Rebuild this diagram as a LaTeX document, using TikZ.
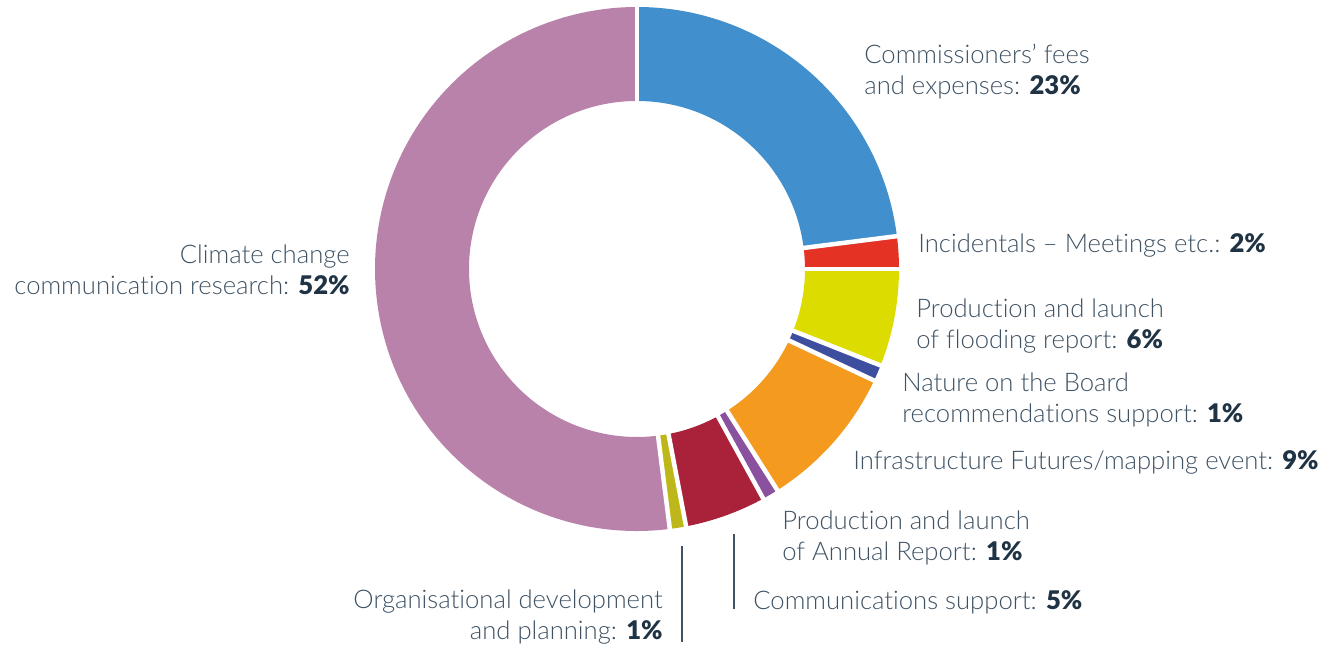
\documentclass[tikz,border=0pt]{standalone}
\usepackage{fontspec}
\setmainfont{Lato Light}[BoldFont=Lato Black,Ligatures=NoCommon]
\usetikzlibrary{positioning}
\definecolor{commblue}{HTML}{4190CD}
\definecolor{incred}{HTML}{E43325}
\definecolor{floodyellow}{HTML}{DDDC00}
\definecolor{natureblue}{HTML}{3E4E9E}
\definecolor{infraorange}{HTML}{F39A1F}
\definecolor{annualpurple}{HTML}{8A519E}
\definecolor{commsred}{HTML}{A9223A}
\definecolor{orgolive}{HTML}{BDB71A}
\definecolor{climatemauve}{HTML}{B982AA}
\definecolor{labeltext}{HTML}{3E5264}
\definecolor{labelbold}{HTML}{1F3344}
\newcommand{\pct}[1]{\textbf{\color{labelbold}#1}}

\begin{document}
\begin{tikzpicture}[x=0.02cm,y=0.02cm,
		slice/.style={draw=none},
		gapline/.style={draw=white,line width=0.09cm},
		leader/.style={draw=labeltext,line width=0.6pt},
		lbl/.style={inner sep=0pt,text=labeltext,font=\fontsize{14.6}{18.1}\selectfont}
		]
		\useasboundingbox (0,0) rectangle (1330,649);
		\coordinate (C) at (637,380);

		% donut slices, clockwise from the top
		\fill[slice,commblue] ([shift={(90:262)}]C) arc[start angle=90,end angle=7.2,radius=262]
		-- ([shift={(7.2:168)}]C) arc[start angle=7.2,end angle=90,radius=168] -- cycle;
		\fill[slice,incred] ([shift={(7.2:262)}]C) arc[start angle=7.2,end angle=0,radius=262]
		-- ([shift={(0:168)}]C) arc[start angle=0,end angle=7.2,radius=168] -- cycle;
		\fill[slice,floodyellow] ([shift={(0:262)}]C) arc[start angle=0,end angle=-21.6,radius=262]
		-- ([shift={(-21.6:168)}]C) arc[start angle=-21.6,end angle=0,radius=168] -- cycle;
		\fill[slice,natureblue] ([shift={(-21.6:262)}]C) arc[start angle=-21.6,end angle=-25.2,radius=262]
		-- ([shift={(-25.2:168)}]C) arc[start angle=-25.2,end angle=-21.6,radius=168] -- cycle;
		\fill[slice,infraorange] ([shift={(-25.2:262)}]C) arc[start angle=-25.2,end angle=-57.6,radius=262]
		-- ([shift={(-57.6:168)}]C) arc[start angle=-57.6,end angle=-25.2,radius=168] -- cycle;
		\fill[slice,annualpurple] ([shift={(-57.6:262)}]C) arc[start angle=-57.6,end angle=-61.2,radius=262]
		-- ([shift={(-61.2:168)}]C) arc[start angle=-61.2,end angle=-57.6,radius=168] -- cycle;
		\fill[slice,commsred] ([shift={(-61.2:262)}]C) arc[start angle=-61.2,end angle=-79.2,radius=262]
		-- ([shift={(-79.2:168)}]C) arc[start angle=-79.2,end angle=-61.2,radius=168] -- cycle;
		\fill[slice,orgolive] ([shift={(-79.2:262)}]C) arc[start angle=-79.2,end angle=-82.8,radius=262]
		-- ([shift={(-82.8:168)}]C) arc[start angle=-82.8,end angle=-79.2,radius=168] -- cycle;
		\fill[slice,climatemauve] ([shift={(-82.8:262)}]C) arc[start angle=-82.8,end angle=-270,radius=262]
		-- ([shift={(-270:168)}]C) arc[start angle=-270,end angle=-82.8,radius=168] -- cycle;

		% white gaps between slices
		\draw[gapline] ([shift={(90:160)}]C) -- ([shift={(90:270)}]C);
		\draw[gapline] ([shift={(7.2:160)}]C) -- ([shift={(7.2:270)}]C);
		\draw[gapline] ([shift={(0:160)}]C) -- ([shift={(0:270)}]C);
		\draw[gapline] ([shift={(-21.6:160)}]C) -- ([shift={(-21.6:270)}]C);
		\draw[gapline] ([shift={(-25.2:160)}]C) -- ([shift={(-25.2:270)}]C);
		\draw[gapline] ([shift={(-57.6:160)}]C) -- ([shift={(-57.6:270)}]C);
		\draw[gapline] ([shift={(-61.2:160)}]C) -- ([shift={(-61.2:270)}]C);
		\draw[gapline] ([shift={(-79.2:160)}]C) -- ([shift={(-79.2:270)}]C);
		\draw[gapline] ([shift={(-82.8:160)}]C) -- ([shift={(-82.8:270)}]C);

		% labels (base = last line)
		\node[lbl,anchor=base west,align=left](Lcomm) at (864,554){Commissioners’ fees\\and expenses: \pct{23\%}};
		\node[lbl,anchor=base west](Linc) at (918,396){Incidentals – Meetings etc.: \pct{2\%}};
		\node[lbl,anchor=base west,align=left](Lflood) at (916,300){Production and launch\\of flooding report: \pct{6\%}};
		\node[lbl,anchor=base west,align=left](Lnature) at (902,226){Nature on the Board\\recommendations support: \pct{1\%}};
		\node[lbl,anchor=base west](Linfra) at (853,179){Infrastructure Futures/mapping event: \pct{9\%}};
		\node[lbl,anchor=base west,align=left](Lannual) at (782,88){Production and launch\\of Annual Report: \pct{1\%}};
		\node[lbl,anchor=base west](Lcomms) at (753,39){Communications support: \pct{5\%}};
		\node[lbl,anchor=base east,align=right](Lorg) at (663,9){Organisational development\\and planning: \pct{1\%}};
		\node[lbl,anchor=base east,align=right](Lclim) at (350,354){Climate change\\communication research: \pct{52\%}};

		% leader lines
		\coordinate (orgtop) at (682,103);
		\coordinate (orgbot) at (682,7);
		\coordinate (commstop) at (734,115);
		\coordinate (commsbot) at (734,40);
		\draw[leader] (orgtop) -- (orgbot);
		\draw[leader] (commstop) -- (commsbot);
	\end{tikzpicture}
\end{document}
